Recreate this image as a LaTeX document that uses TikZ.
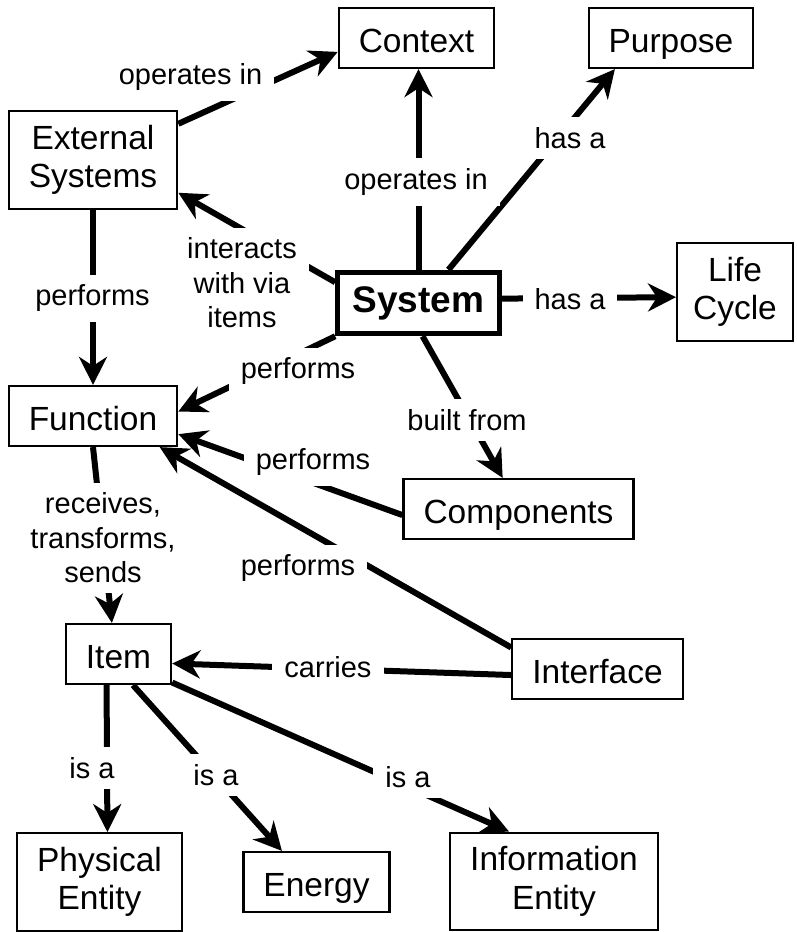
\documentclass[tikz,border=0pt]{standalone}
\usepackage{fontspec}
\setmainfont{Liberation Sans}
\usetikzlibrary{arrows.meta,backgrounds}

\tikzset{
  concept/.style={draw, line width=2.2pt, inner xsep=20pt, inner ysep=14pt, minimum height=60pt, align=center, font=\fontsize{33.5}{38.5}\selectfont},
  oneline/.style={text height=28pt, text depth=0pt},
  linkname/.style={fill=white, inner xsep=12pt, inner ysep=10pt, align=center, font=\fontsize{29}{34.5}\selectfont},
  link/.style={line width=6pt, -{Stealth[length=28pt,width=28pt,inset=9pt]}},
}

\begin{document}
\begin{tikzpicture}[x=1pt,y=-1pt]
\useasboundingbox (0,0) rectangle (796,932);

%Shape: Rectangle
\node[concept, oneline] (ctx) at (416.5,38) {Context};
\node[concept, oneline] (purp) at (671,38) {Purpose};
\node[concept] (ext) at (93,160) {External\\Systems};
\node[concept, line width=5pt, inner xsep=15pt, minimum height=61pt, font=\bfseries\fontsize{37}{40}\selectfont] (sys) at (418.5,303) {System};
\node[concept, inner xsep=16pt] (life) at (735,292) {Life\\Cycle};
\node[concept, oneline] (fn) at (93,416) {Function};
\node[concept, oneline] (comp) at (518.5,509) {Components};
\node[concept, oneline] (item) at (118.5,654) {Item};
\node[concept, oneline] (intf) at (597.5,669) {Interface};
\node[concept] (phys) at (99.5,882) {Physical\\Entity};
\node[concept, oneline] (energy) at (316.5,882) {Energy};
\node[concept] (info) at (554,881.5) {Information\\Entity};

% Text Node
\node[linkname] (lOpExt) at (190.5,77) {operates in};
\node[linkname] (lOpSys) at (416,182) {operates in};
\node[linkname] (lHasP) at (570,138) {has a};
\node[linkname] (lHasL) at (570,299) {has a};
\node[linkname] (lInter) at (242,283) {interacts\\with via\\items};
\node[linkname] (lPerfExt) at (92.5,298) {performs};
\node[linkname] (lPerfSys) at (298,371) {performs};
\node[linkname] (lBuilt) at (467,420) {built from};
\node[linkname] (lPerfComp) at (313,462) {performs};
\node[linkname] (lRecv) at (103,538) {receives,\\transforms,\\sends};
\node[linkname] (lPerfIntf) at (298,568) {performs};
\node[linkname] (lCarries) at (328,667) {carries};
\node[linkname] (lIsaA) at (92,768) {is a};
\node[linkname] (lIsaB) at (216,775) {is a};
\node[linkname] (lIsaC) at (408,777) {is a};

%Straight Lines
\begin{scope}[on background layer]
\draw[link] (ext.23.5) -- (ctx.190);
\draw[link] (sys.north) -- (sys.north |- ctx.south);
\draw[link] (sys.48) -- (purp.209.5);
\draw[link] (sys.166.5) -- (ext.339);
\draw[link] (sys.3.4) -- (life.185.8);
\draw[link] (ext.south) -- (fn.north);
\draw[link] (sys.south west) -- (fn.3.4);
\draw[link] (sys.277.8) -- (comp.117.3);
\draw[link] (comp.183.5) -- (fn.348.6);
\draw[link] (intf.166) -- (fn.335.9);
\draw[link] (fn.south) -- (item.102.2);
\draw[link] (intf.184.7) -- (item.350.3);
\draw[link] (item.249) -- (phys.81.5);
\draw[link] (item.295.8) -- (energy.138.2);
\draw[link] (item.332.8) -- (info.132.3);
\end{scope}

\end{tikzpicture}
\end{document}
